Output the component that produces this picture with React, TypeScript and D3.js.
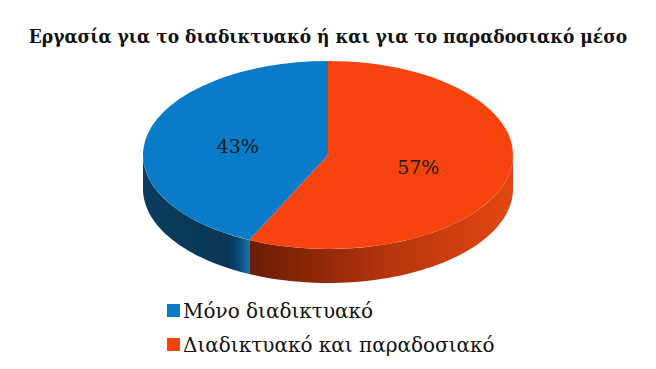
import * as d3 from "d3";

const categories = ["Μόνο διαδικτυακό", "Διαδικτυακό και παραδοσιακό"];
const values = [43, 57];
const labels = ["43%", "57%"];
const title = "Εργασία για το διαδικτυακό ή και για το παραδοσιακό μέσο";

const W = 656;
const H = 369;
const cx = 328;
const cy = 155;
const rx = 185;
const ry = 94;
const depth = 34;

const topColors = ["#0a7bc8", "#f7440f"];

// point on the top ellipse for a d3 pie angle (0 = 12 o'clock, clockwise)
const pt = (a: number, dy = 0): [number, number] => [rx * Math.sin(a), -ry * Math.cos(a) + dy];

export default function App() {
  // 57 first clockwise from 12 o'clock, then 43 back to the top
  const pie = d3
    .pie<number>()
    .sort(null)
    .startAngle(0)
    .endAngle(2 * Math.PI);
  const order = [1, 0];
  const arcs = pie(order.map((i) => values[i]));

  const arc = d3.arc<d3.PieArcDatum<number>>().innerRadius(0).outerRadius(rx);
  const labelArc = d3.arc<d3.PieArcDatum<number>>().innerRadius(rx * 0.5).outerRadius(rx * 0.5);
  const line = d3.line();

  const sides = arcs.map((a, k) => {
    const idx = order[k];
    const a0 = Math.max(a.startAngle, Math.PI / 2);
    const a1 = Math.min(a.endAngle, (3 * Math.PI) / 2);
    if (a1 <= a0) return null;
    const steps = d3.range(0, 61).map((s) => a0 + ((a1 - a0) * s) / 60);
    const pts: [number, number][] = [
      ...steps.map((t) => pt(t)),
      ...steps.slice().reverse().map((t) => pt(t, depth)),
    ];
    return { idx, d: line(pts) + "Z" };
  });

  return (
    <svg width={W} height={H} style={{ position: "absolute", left: 0, top: 0 }}>
      <defs>
        <linearGradient id="sideOrange" gradientUnits="userSpaceOnUse" x1={250 - cx} x2={513 - cx} y1={0} y2={0}>
          <stop offset="0" stopColor="#6a1c05" />
          <stop offset="0.55" stopColor="#b9360c" />
          <stop offset="1" stopColor="#e24812" />
        </linearGradient>
        <linearGradient id="sideBlue" gradientUnits="userSpaceOnUse" x1={143 - cx} x2={250 - cx} y1={0} y2={0}>
          <stop offset="0" stopColor="#0b3b5e" />
          <stop offset="0.8" stopColor="#093654" />
          <stop offset="0.9" stopColor="#0b4a75" />
          <stop offset="1" stopColor="#1a78b5" />
        </linearGradient>
      </defs>
      <rect width={W} height={H} fill="#ffffff" />
      <text
        x={W / 2}
        y={43}
        textAnchor="middle"
        fontFamily="'DejaVu Serif Condensed', 'DejaVu Serif', serif"
        fontWeight={700}
        fontSize={19}
        fill="#111"
      >
        {title}
      </text>
      <g transform={`translate(${cx},${cy})`}>
        {sides.map((s) =>
          s ? (
            <path key={"s" + s.idx} d={s.d} fill={s.idx === 0 ? "url(#sideBlue)" : "url(#sideOrange)"} />
          ) : null
        )}
        <g transform={`scale(1,${ry / rx})`}>
          {arcs.map((a, k) => (
            <path key={"t" + k} d={arc(a) || ""} fill={topColors[order[k]]} />
          ))}
        </g>
        {arcs.map((a, k) => {
          const [x, y] = labelArc.centroid(a);
          return (
            <text
              key={"l" + k}
              x={x}
              y={y * (ry / rx) + 2}
              dy="0.35em"
              textAnchor="middle"
              fontFamily="'DejaVu Serif', serif"
              fontWeight={400}
              fontSize={19}
              fill="#1a1a1a"
            >
              {labels[order[k]]}
            </text>
          );
        })}
      </g>
      {categories.map((c, i) => (
        <g key={c} transform={`translate(167,${304 + i * 34})`}>
          <rect width={13} height={13} fill={topColors[i]} />
          <text x={16} y={14} fontFamily="'DejaVu Serif', serif" fontWeight={400} fontSize={20} fill="#111">
            {c}
          </text>
        </g>
      ))}
    </svg>
  );
}
